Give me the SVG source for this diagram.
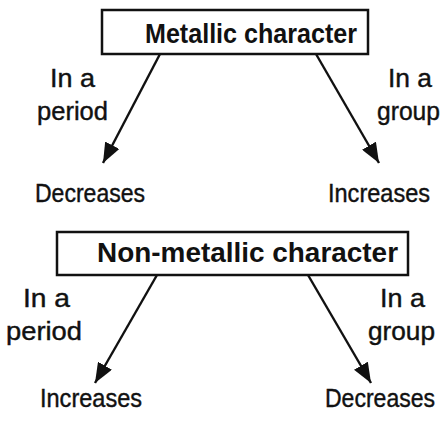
<svg xmlns="http://www.w3.org/2000/svg" width="446" height="425" viewBox="0 0 446 425">
<defs>
<style>
.box{fill:#fff;stroke:#111;stroke-width:2.5}
.title{font-family:"Liberation Sans",Arial,sans-serif;font-weight:bold;font-size:28px;fill:#111}
.lbl{font-family:"Liberation Sans",Arial,sans-serif;font-size:25px;fill:#111;stroke:#111;stroke-width:0.4}
.conn{stroke:#111;stroke-width:2.4;fill:none;marker-end:url(#ah)}
</style>
<marker id="ah" viewBox="0 0 20 16" refX="20" refY="8" markerWidth="20" markerHeight="16" markerUnits="userSpaceOnUse" orient="auto">
<path d="M0,0 L20,8 L0,16 Z" fill="#111"/>
</marker>
</defs>
<rect width="446" height="425" fill="#fff"/>
<g id="connectors">
<line class="conn" x1="160" y1="54" x2="103" y2="163"/>
<line class="conn" x1="316" y1="54" x2="379" y2="163"/>
<line class="conn" x1="157" y1="275" x2="95" y2="383"/>
<line class="conn" x1="308" y1="275" x2="371" y2="383"/>
</g>
<g id="metallic">
<rect class="box" x="102" y="10" width="266" height="44"/>
<text class="title" x="145" y="43" textLength="212" lengthAdjust="spacingAndGlyphs">Metallic character</text>
</g>
<g id="m-period-label">
<text class="lbl" x="50" y="87" textLength="45" lengthAdjust="spacingAndGlyphs">In a</text>
<text class="lbl" x="37" y="120" textLength="71" lengthAdjust="spacingAndGlyphs">period</text>
</g>
<g id="m-group-label">
<text class="lbl" x="388" y="87" textLength="44" lengthAdjust="spacingAndGlyphs">In a</text>
<text class="lbl" x="377" y="120" textLength="63" lengthAdjust="spacingAndGlyphs">group</text>
</g>
<g id="m-decreases">
<text class="lbl" x="35" y="202" textLength="110" lengthAdjust="spacingAndGlyphs">Decreases</text>
</g>
<g id="m-increases">
<text class="lbl" x="328" y="202" textLength="102" lengthAdjust="spacingAndGlyphs">Increases</text>
</g>
<g id="nonmetallic">
<rect class="box" x="57" y="232" width="351" height="43"/>
<text class="title" x="97" y="262" textLength="301" lengthAdjust="spacingAndGlyphs">Non-metallic character</text>
</g>
<g id="n-period-label">
<text class="lbl" x="23" y="307" textLength="47" lengthAdjust="spacingAndGlyphs">In a</text>
<text class="lbl" x="6" y="340" textLength="76" lengthAdjust="spacingAndGlyphs">period</text>
</g>
<g id="n-group-label">
<text class="lbl" x="380" y="307" textLength="45" lengthAdjust="spacingAndGlyphs">In a</text>
<text class="lbl" x="368" y="340" textLength="67" lengthAdjust="spacingAndGlyphs">group</text>
</g>
<g id="n-increases">
<text class="lbl" x="40" y="407" textLength="102" lengthAdjust="spacingAndGlyphs">Increases</text>
</g>
<g id="n-decreases">
<text class="lbl" x="325" y="407" textLength="110" lengthAdjust="spacingAndGlyphs">Decreases</text>
</g>
</svg>
